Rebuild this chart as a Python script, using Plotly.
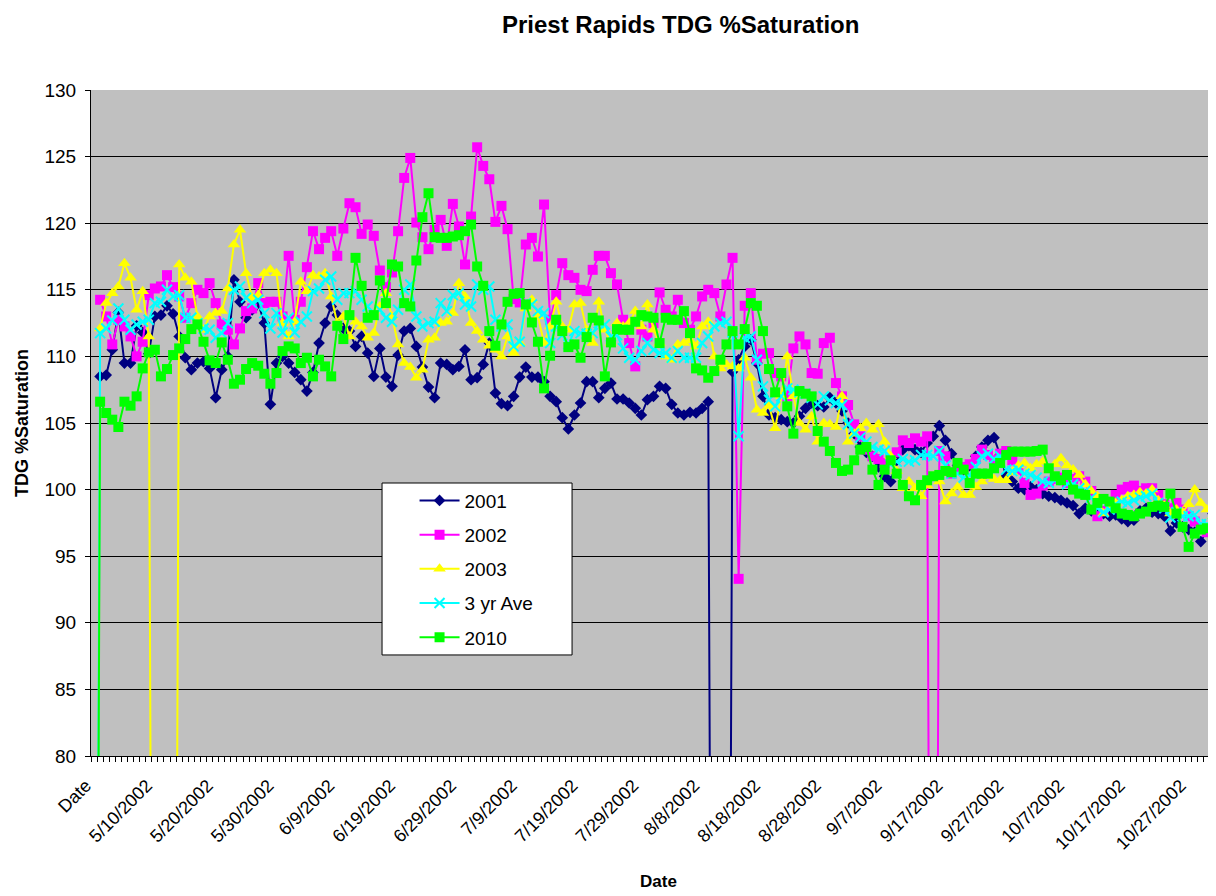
import pandas as pd
import plotly.graph_objects as go

# categories: header row "Date" followed by the daily dates
dates = ["Date"] + [f"{d.month}/{d.day}/{d.year}" for d in pd.date_range("2002-05-01", "2002-10-31")]
tick_labels = [lab if i % 10 == 0 else "" for i, lab in enumerate(dates)]

# 0 = missing value plotted as zero (drops off the bottom of the chart)
y2001 = [None,
    108.5, 108.6, 110.5, 113.3, 109.5, 109.5, 112.3, 111.8, 110.2, 113.0,
    113.1, 113.8, 113.2, 111.5, 109.9, 109.0, 109.5, 109.6, 109.1, 106.9,
    109.0, 110.0, 115.75, 114.1, 112.9, 113.5, 114.0, 112.5, 106.4, 109.5,
    110.0, 109.5, 108.8, 108.25, 107.4, 108.8, 111.0, 112.5, 113.75, 113.1,
    112.1, 111.9, 110.75, 111.5, 110.25, 108.5, 110.6, 108.45, 107.75, 110.1,
    111.9, 112.1, 110.75, 109.2, 107.7, 106.9, 109.5, 109.4, 109.0, 109.25,
    110.5, 108.25, 108.4, 109.4, 111.0, 107.25, 106.45, 106.3, 107.0, 108.45,
    109.2, 108.45, 108.45, 108.1, 107.0, 106.6, 105.4, 104.55, 105.6, 106.5,
    108.1, 108.1, 106.9, 107.6, 108.0, 106.8, 106.8, 106.5, 106.1, 105.6,
    106.75, 107.0, 107.75, 107.6, 106.4, 105.75, 105.6, 105.8, 105.75, 106.1,
    106.6, 0, 0, 0, 108.85, 109.75, 110.75, 111.25, 109.5, 107.0,
    105.6, 105.4, 105.25, 105.1, 105.0, 105.5, 106.1, 106.5, 106.3, 106.2,
    106.9, 106.5, 105.9, 105.0, 104.2, 103.2, 102.8, 102.5, 101.7, 101.0,
    100.6, 102.2, 103.0, 103.3, 103.0, 102.8, 103.5, 104.0, 104.8, 103.7,
    102.7, 101.8, 101.5, 101.8, 102.5, 103.2, 103.7, 103.9, 102.6, 101.0,
    100.6, 100.1, 100.0, 100.2, 100.0, 99.7, 99.5, 99.4, 99.2, 99.0,
    98.8, 98.2, 98.6, 98.4, 98.3, 98.2, 98.0, 98.1, 97.8, 97.6,
    97.7, 98.4, 98.6, 98.3, 98.2, 98.0, 96.9, 97.5, 97.2, 97.0,
    96.8, 96.1, 97.0, 98.2]

y2002 = [None,
    114.25, 113.0, 110.9, 112.75, 112.25, 111.5, 110.0, 111.1, 114.6, 115.1,
    115.25, 116.1, 115.2, 114.5, 112.9, 114.0, 115.0, 114.75, 115.5, 114.0,
    112.4, 112.0, 110.9, 112.1, 113.4, 113.6, 115.5, 114.0, 114.1, 114.1,
    113.0, 117.55, 112.75, 114.1, 116.7, 119.4, 118.05, 118.9, 119.4, 117.55,
    119.6, 121.5, 121.2, 119.2, 119.9, 119.05, 116.45, 115.2, 116.3, 119.4,
    123.4, 124.9, 120.05, 118.95, 118.05, 119.5, 120.25, 118.3, 121.45, 119.75,
    116.9, 120.5, 125.7, 124.3, 123.3, 120.1, 121.3, 119.55, 114.3, 114.05,
    118.4, 118.9, 117.5, 121.4, 112.75, 114.6, 117.0, 116.1, 115.9, 115.0,
    114.9, 116.5, 117.55, 117.55, 116.25, 115.4, 112.75, 111.0, 109.25, 112.0,
    111.5, 112.5, 114.8, 113.5, 113.0, 114.25, 112.5, 112.0, 113.0, 114.5,
    115.0, 114.75, 113.0, 115.4, 117.4, 93.3, 113.8, 114.75, 109.75, 110.2,
    110.25, 108.75, 108.5, 107.0, 110.6, 111.5, 110.9, 108.75, 108.7, 111.0,
    111.4, 108.0, 107.0, 106.35, 104.9, 104.0, 103.0, 102.5, 102.3, 102.0,
    102.3, 102.8, 103.7, 103.5, 103.85, 103.6, 104.0, 0, 102.9, 102.5,
    101.2, 101.5, 101.7, 101.9, 102.3, 103.0, 102.6, 102.2, 102.7, 102.9,
    102.2, 101.5, 100.5, 99.6, 99.7, 100.3, 100.6, 100.8, 100.9, 100.5,
    100.8, 101.0, 100.6, 99.9, 98.0, 98.4, 98.9, 99.6, 100.0, 100.2,
    100.3, 99.9, 100.1, 100.1, 99.6, 98.9, 98.6, 99.0, 98.5, 98.0,
    97.6, 97.2, 96.8, 96.4]

y2003 = [None,
    112.1, 114.0, 114.75, 115.25, 117.0, 115.9, 113.5, 114.9, 111.5, 0,
    0, 0, 0, 116.9, 115.9, 115.6, 113.0, 112.0, 113.0, 113.25,
    113.4, 115.1, 118.4, 119.5, 116.25, 114.4, 114.6, 116.25, 116.5, 116.25,
    112.5, 111.5, 112.6, 115.6, 114.9, 116.1, 116.0, 116.25, 114.5, 112.5,
    113.0, 111.5, 112.6, 112.25, 111.4, 111.75, 113.75, 114.75, 113.0, 110.9,
    109.5, 109.2, 108.4, 109.0, 111.25, 111.4, 112.5, 112.6, 113.25, 115.5,
    114.5, 112.5, 111.9, 111.25, 110.8, 110.5, 110.0, 111.5, 110.25, 111.0,
    113.6, 114.25, 113.0, 111.0, 112.25, 114.1, 112.25, 112.0, 113.9, 114.0,
    112.0, 111.0, 114.1, 112.0, 111.0, 112.5, 112.25, 112.5, 113.4, 112.25,
    113.9, 112.0, 111.0, 110.0, 109.75, 110.9, 111.0, 111.2, 110.75, 112.25,
    112.6, 110.0, 109.1, 109.4, 109.25, 109.1, 109.9, 108.4, 106.0, 105.75,
    106.3, 104.6, 107.0, 110.0, 107.0, 105.0, 104.5, 105.5, 103.6, 105.0,
    104.9, 104.7, 107.0, 103.6, 104.2, 104.6, 105.0, 104.5, 104.9, 103.6,
    102.5, 101.4, 100.1, 100.6, 100.1, 99.5, 100.3, 101.0, 100.6, 99.1,
    99.7, 100.2, 99.6, 99.6, 100.2, 100.6, 101.0, 100.8, 100.7, 100.7,
    101.3, 101.8, 102.0, 101.6, 101.9, 102.1, 101.5, 101.9, 102.35, 101.8,
    101.5, 101.1, 100.4, 99.9, 99.5, 98.2, 98.6, 99.0, 99.2, 99.5,
    99.6, 99.8, 99.7, 100.0, 99.2, 98.8, 98.2, 98.5, 98.3, 98.9,
    100.0, 99.0, 98.5, 98.0]

y3yr_ave = [0,
    111.75, 112.1, 112.7, 113.6, 112.75, 112.0, 112.4, 112.6, 112.75, 114.0,
    114.1, 115.0, 114.5, 114.6, 112.9, 112.9, 112.5, 112.1, 112.0, 111.4,
    111.75, 112.5, 115.0, 115.25, 114.4, 114.0, 114.25, 113.25, 112.1, 113.25,
    111.8, 112.9, 111.8, 112.6, 113.0, 114.9, 115.1, 115.75, 116.0, 114.25,
    114.75, 114.75, 114.9, 114.25, 113.75, 113.1, 113.5, 112.9, 112.6, 113.5,
    115.0, 115.4, 113.0, 112.25, 112.5, 112.6, 114.0, 113.4, 114.6, 114.75,
    113.9, 113.75, 115.4, 115.0, 115.25, 112.75, 112.25, 112.4, 110.75, 111.1,
    114.0, 113.9, 113.4, 113.25, 111.0, 112.25, 111.6, 110.9, 111.9, 111.75,
    111.7, 111.75, 112.5, 112.4, 111.5, 111.6, 110.6, 109.9, 109.75, 110.4,
    111.0, 110.5, 110.25, 110.25, 109.9, 110.4, 109.9, 109.9, 109.9, 111.0,
    111.5, 112.25, 112.5, 112.6, 111.8, 104.0, 111.4, 111.5, 109.75, 107.75,
    106.75, 106.25, 107.0, 107.6, 107.5, 107.3, 107.2, 106.9, 106.4, 107.0,
    106.7, 106.5, 106.35, 104.9, 104.2, 103.9, 103.6, 103.2, 103.0, 102.9,
    101.9, 102.1, 102.3, 102.1, 102.2, 102.6, 102.6, 102.5, 102.9, 101.8,
    101.2, 101.2, 100.9, 101.1, 101.7, 102.5, 102.7, 102.3, 102.5, 101.5,
    101.4, 101.5, 101.2, 101.1, 100.9, 100.6, 100.5, 100.7, 100.8, 100.4,
    100.4, 100.1, 99.9, 99.4, 98.6, 98.3, 98.5, 98.9, 99.1, 99.0,
    99.2, 99.4, 99.5, 99.7, 99.0, 98.6, 97.9, 98.3, 98.0, 98.0,
    98.1, 97.4, 97.4, 97.5]

y2010 = [0,
    106.6, 105.75, 105.25, 104.7, 106.6, 106.3, 107.0, 109.1, 110.3, 110.5,
    108.5, 109.05, 110.1, 110.6, 111.3, 112.05, 112.4, 111.1, 109.7, 109.5,
    111.05, 109.75, 107.95, 108.25, 109.05, 109.5, 109.3, 108.7, 107.95, 108.75,
    110.4, 110.75, 110.6, 109.5, 109.9, 108.5, 109.75, 109.25, 108.5, 112.3,
    111.3, 113.1, 117.4, 115.3, 112.9, 113.1, 115.7, 114.0, 116.9, 116.75,
    114.0, 113.75, 117.2, 120.45, 122.25, 118.95, 118.9, 118.9, 119.0, 119.1,
    119.4, 119.9, 116.75, 115.3, 111.9, 110.8, 112.4, 114.1, 114.7, 114.75,
    113.9, 112.55, 111.1, 107.6, 110.05, 112.75, 111.9, 110.7, 110.9, 109.9,
    111.45, 112.9, 112.7, 108.5, 111.05, 112.05, 112.0, 112.0, 112.6, 113.1,
    113.0, 112.9, 111.0, 112.9, 112.75, 112.75, 113.4, 111.75, 109.1, 108.95,
    108.4, 108.9, 109.75, 110.9, 111.9, 110.9, 112.05, 114.0, 113.8, 111.9,
    109.05, 107.3, 108.75, 106.25, 104.2, 107.4, 107.2, 107.0, 104.4, 103.6,
    102.9, 102.0, 101.4, 101.5, 102.2, 103.0, 103.2, 101.5, 100.35, 101.5,
    102.2, 101.2, 100.35, 99.5, 99.2, 100.35, 100.7, 101.0, 101.1, 101.4,
    101.3, 102.0, 101.5, 100.5, 101.2, 101.2, 101.2, 101.6, 102.0, 102.6,
    102.85, 102.85, 102.85, 102.85, 102.9, 103.0, 101.6, 101.0, 100.7, 101.1,
    100.0, 99.7, 99.6, 98.5, 99.0, 99.3, 99.1, 98.6, 98.2, 98.1,
    98.0, 98.2, 98.35, 98.7, 98.8, 98.7, 99.7, 98.2, 97.2, 95.7,
    96.7, 97.0, 97.1, 96.5]

font = "Liberation Sans, Arial, sans-serif"

fig = go.Figure()

series = [
    ("2001", y2001, "#000080", dict(symbol="diamond", size=9, color="#000080")),
    ("2002", y2002, "#FF00FF", dict(symbol="square", size=10, color="#FF00FF")),
    ("2003", y2003, "#FFFF00", dict(symbol="triangle-up", size=11, color="#FFFF00")),
    ("3 yr Ave", y3yr_ave, "#00FFFF", dict(symbol="x-thin", size=10, color="#00FFFF",
                                           line=dict(color="#00FFFF", width=2))),
    ("2010", y2010, "#00FF00", dict(symbol="square", size=10, color="#00FF00")),
]
for name, vals, col, mk in series:
    fig.add_trace(go.Scatter(x=dates, y=vals, name=name, mode="lines+markers",
                             line=dict(color=col, width=2), marker=mk,
                             legendgroup=name))

# legend box (opaque, sits over the data like Excel's)
fig.add_shape(type="rect", xref="paper", yref="paper",
              x0=0.2587, x1=0.4276, y0=0.1517, y1=0.4099,
              fillcolor="white", line=dict(color="black", width=1), layer="above")

# the page has an 8px body margin, so the figure is 8px smaller and shifted
fig.update_layout(
    width=1208, height=888,
    margin=dict(l=83, r=0, t=82, b=140),
    paper_bgcolor="white", plot_bgcolor="#C0C0C0",
    font=dict(family=font, size=18, color="black"),
    showlegend=True,
    legend=dict(x=0.2876, y=0.412, xanchor="left", yanchor="top",
                bgcolor="rgba(0,0,0,0)", borderwidth=0,
                font=dict(size=19), tracegroupgap=6.5, itemwidth=40,
                traceorder="grouped"),
    annotations=[
        dict(text="<b>Priest Rapids TDG %Saturation</b>", xref="paper", yref="paper",
             x=0.5236, y=1.122, xanchor="center", yanchor="top",
             showarrow=False, font=dict(size=24)),
        dict(text="<b>TDG %Saturation</b>", xref="paper", yref="paper",
             x=-0.0613, y=0.5, xanchor="center", yanchor="middle",
             textangle=-90, showarrow=False, font=dict(size=18)),
        dict(text="<b>Date</b>", xref="paper", yref="paper",
             x=0.504, y=-0.189, xanchor="center", yanchor="middle",
             showarrow=False, font=dict(size=17)),
    ],
)

fig.update_xaxes(type="category", range=[-0.5, 184.5],
                 tickmode="array", tickvals=dates, ticktext=tick_labels,
                 tickangle=-45, tickson="boundaries",
                 ticks="outside", ticklen=5, tickcolor="black",
                 ticklabelstandoff=11, ticklabelshift=-8,
                 showgrid=False, showline=True, linecolor="black", linewidth=1,
                 tickfont=dict(size=18), zeroline=False)
fig.update_yaxes(range=[80, 130], dtick=5, tick0=80,
                 ticks="outside", ticklen=5, tickcolor="black",
                 ticklabelstandoff=5,
                 showgrid=True, gridcolor="black", gridwidth=1,
                 showline=True, linecolor="black", linewidth=1,
                 tickfont=dict(size=19), zeroline=False)

fig.write_html("out.html")
